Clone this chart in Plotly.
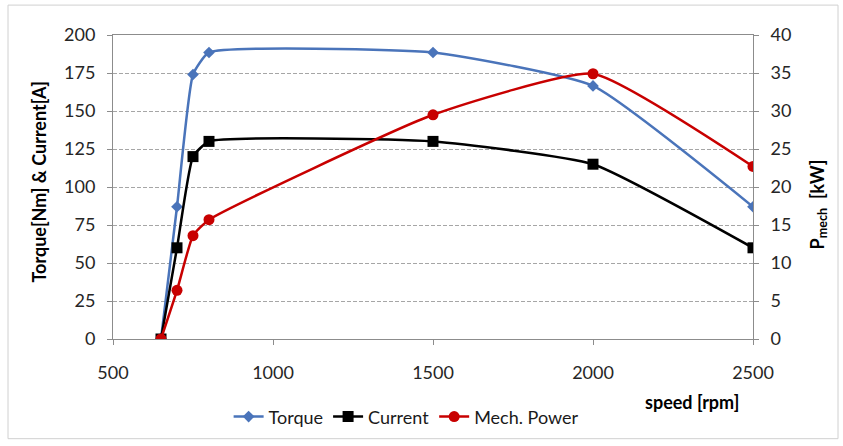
import plotly.graph_objects as go

speed = [650, 700, 750, 800, 1500, 2000, 2500]
torque = [0, 87, 174, 188.5, 188.5, 166.5, 87]
current = [0, 60, 120, 130, 130, 115, 60]
power_kw = [0, 6.4, 13.6, 15.7, 29.5, 34.9, 22.7]

x_ticks = [500, 1000, 1500, 2000, 2500]
left_ticks = [0, 25, 50, 75, 100, 125, 150, 175, 200]
right_ticks = [0, 5, 10, 15, 20, 25, 30, 35, 40]

FONT = "Lato, 'Open Sans', sans-serif"
BLUE = "#4A74BA"
BLACK = "#000000"
RED = "#C80000"
SMOOTH = 0.45

fig = go.Figure()
fig.add_trace(go.Scatter(
    x=speed, y=torque, name="Torque", mode="lines+markers",
    line=dict(color=BLUE, width=2.5, shape="spline", smoothing=SMOOTH),
    marker=dict(symbol="diamond", size=9, color=BLUE),
))
fig.add_trace(go.Scatter(
    x=speed, y=current, name="Current", mode="lines+markers",
    line=dict(color=BLACK, width=2.5, shape="spline", smoothing=SMOOTH),
    marker=dict(symbol="square", size=11, color=BLACK),
))
fig.add_trace(go.Scatter(
    x=speed, y=power_kw, name="Mech. Power", mode="lines+markers", yaxis="y2",
    line=dict(color=RED, width=2.5, shape="spline", smoothing=SMOOTH),
    marker=dict(symbol="circle", size=11, color=RED),
))

axis_line = "#8c8c8c"
tick_font = dict(size=18, color="#262626")
fig.update_layout(
    width=843, height=446,
    margin=dict(l=113, r=90, t=35, b=106),
    paper_bgcolor="white", plot_bgcolor="white",
    font=dict(family=FONT, size=18, color="#1a1a1a"),
    showlegend=True,
    legend=dict(orientation="h", x=0.458, y=-0.252, xanchor="center", yanchor="middle",
                font=dict(size=18, color="#1a1a1a"), tracegroupgap=0),
    xaxis=dict(range=[500, 2500], tickvals=x_ticks, showgrid=False, zeroline=False,
               showline=True, linecolor=axis_line, linewidth=1, mirror=True,
               ticks="outside", ticklen=5, tickcolor=axis_line, tickfont=tick_font,
               ticklabelstandoff=12),
    yaxis=dict(range=[0, 200], tickvals=left_ticks, showgrid=True, gridcolor="#a6a6a6",
               griddash="4px,2px", gridwidth=1, zeroline=False,
               showline=True, linecolor=axis_line, linewidth=1,
               ticks="outside", ticklen=5, tickcolor=axis_line, tickfont=tick_font,
               ticklabelstandoff=8),
    yaxis2=dict(range=[0, 40], tickvals=right_ticks, overlaying="y", side="right",
                showgrid=False, zeroline=False, showline=True, linecolor=axis_line,
                linewidth=1, ticks="outside", ticklen=5, tickcolor=axis_line,
                tickfont=tick_font, ticklabelstandoff=8),
)

fig.add_annotation(text="<b>Torque[Nm] & Current[A]</b>", xref="paper", yref="paper",
                   x=(39 - 113) / 640, y=(340 - 183) / 305, textangle=-90, showarrow=False,
                   xanchor="center", yanchor="middle", font=dict(size=18, color=BLACK))
fig.add_annotation(text="<b>P<sub>mech</sub>  [kW]</b>", xref="paper", yref="paper",
                   x=(818 - 113) / 640, y=(340 - 205) / 305, textangle=-90, showarrow=False,
                   xanchor="center", yanchor="middle", font=dict(size=18, color=BLACK))
fig.add_annotation(text="<b>speed [rpm]</b>", xref="paper", yref="paper",
                   x=(692 - 113) / 640, y=(340 - 403) / 305, showarrow=False,
                   xanchor="center", yanchor="middle", font=dict(size=18, color=BLACK))

# chart-area frame
fig.add_shape(type="rect", xref="paper", yref="paper",
              x0=(8 - 113) / 640, x1=(838 - 113) / 640,
              y0=(340 - 440) / 305, y1=(340 - 5) / 305,
              line=dict(color="#d0d0d0", width=1), layer="below")

fig.write_html("out.html")
